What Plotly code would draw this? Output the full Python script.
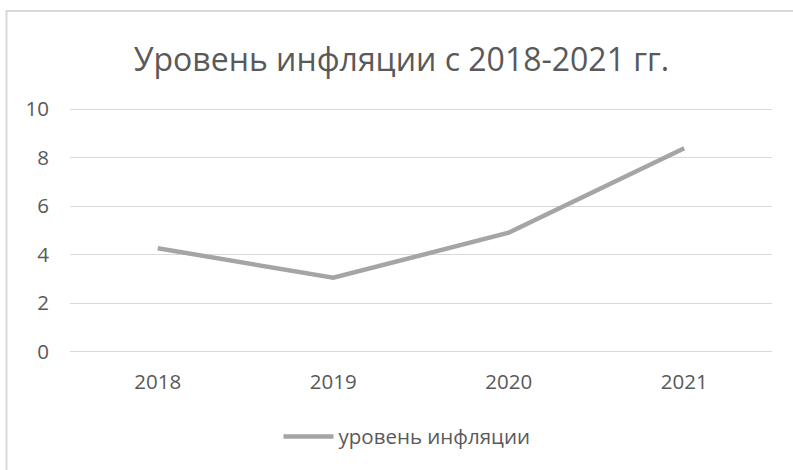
import plotly.graph_objects as go

years = ["2018", "2019", "2020", "2021"]
inflation = [4.27, 3.05, 4.91, 8.39]
series_name = "уровень инфляции"
title_text = "Уровень инфляции с 2018-2021 гг."
y_ticks = [0, 2, 4, 6, 8, 10]

W, H = 793, 470
PAD = 0.05
Y0, Y1 = 352, 109  # pixel rows of y=0 and y=10
UNIT = (Y0 - Y1) / 10
L, R = 70, 772
T = Y1 - PAD * UNIT
B = Y0 + PAD * UNIT
FONT = "Open Sans"
TXT = "#595959"
GRID = "#d9d9d9"

def px_x(p):
    return (p - L) / (R - L)

def px_y(p):
    return (B - p) / (B - T)

fig = go.Figure()
fig.add_trace(go.Scatter(
    x=years, y=inflation, mode="lines", name=series_name,
    line=dict(color="#a5a5a5", width=4.5),
))

fig.update_layout(
    width=W, height=H,
    margin=dict(l=L, r=W - R, t=T, b=H - B, autoexpand=False),
    paper_bgcolor="white", plot_bgcolor="white",
    font=dict(family=FONT, color=TXT),
    title=dict(text=title_text, xref="container", x=401.5 / W, xanchor="center",
               y=1 - 60 / H, yanchor="middle",
               font=dict(size=32, color=TXT, family=FONT)),
    showlegend=True,
    legend=dict(orientation="h", x=px_x(407), xanchor="center", y=px_y(437), yanchor="middle",
                font=dict(size=20.5, color=TXT), itemwidth=50, bgcolor="rgba(0,0,0,0)"),
    xaxis=dict(type="category", showgrid=False, zeroline=False, showline=False,
               tickfont=dict(size=20.5, color=TXT), ticks="", ticklabelstandoff=14,
               range=[-0.5, 3.5]),
    yaxis=dict(range=[-PAD, 10 + PAD], tickvals=y_ticks, showgrid=True, gridcolor=GRID, gridwidth=1,
               zeroline=False, showline=False, ticks="",
               tickfont=dict(size=20.5, color=TXT), ticklabelstandoff=20),
    shapes=[dict(type="rect", xref="paper", yref="paper",
                 x0=px_x(6.5), x1=px_x(820), y0=px_y(500), y1=px_y(10.5),
                 line=dict(color=GRID, width=2), fillcolor="rgba(0,0,0,0)", layer="below")],
)

fig.write_html("out.html", config={"displayModeBar": False},
               post_script="document.body.style.margin='0';")
